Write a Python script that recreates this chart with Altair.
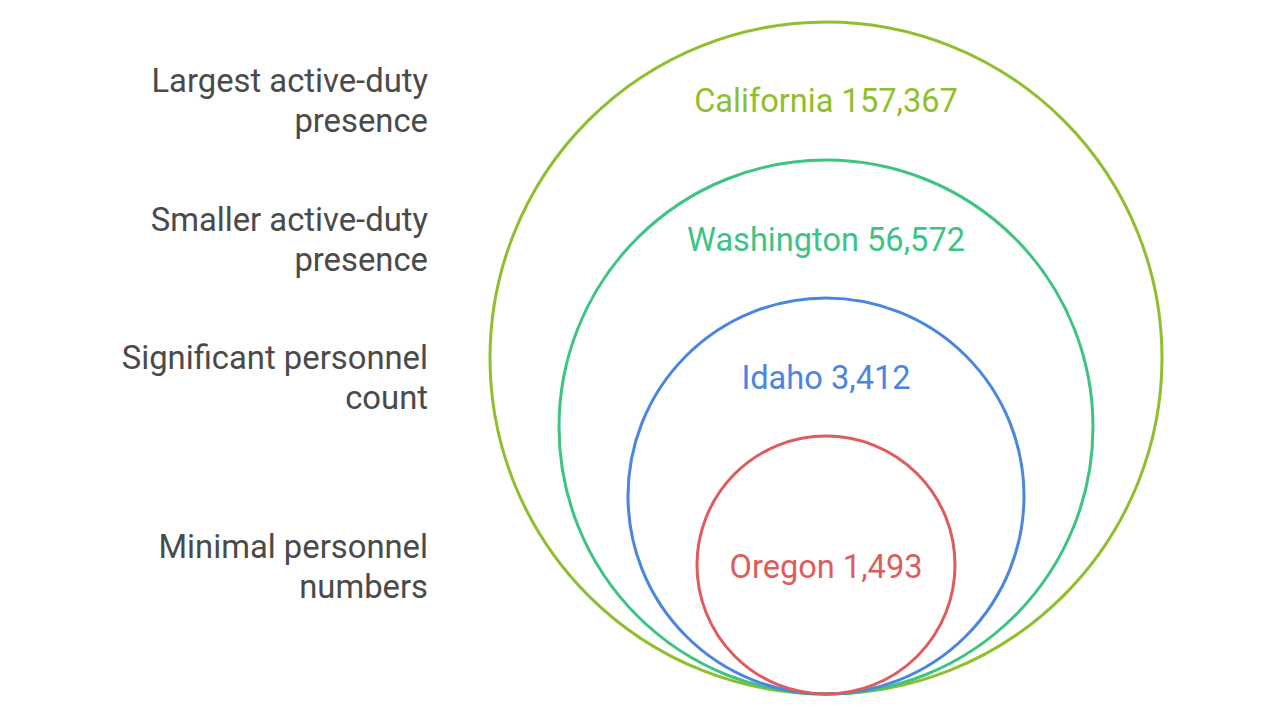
import altair as alt
import pandas as pd

# Data
states = ["California", "Washington", "Idaho", "Oregon"]
personnel = [157367, 56572, 3412, 1493]
descriptions = [
    "Largest active-duty\npresence",
    "Smaller active-duty\npresence",
    "Significant personnel\ncount",
    "Minimal personnel\nnumbers",
]
colors = ["#8fbe2e", "#3dc382", "#4a86e0", "#e05c5c"]

# Layout (pixels)
W, H = 1280, 720
cx, bottom = 826, 694
radii = [336, 267, 198, 129]
label_y = [102, 241, 379, 568]
desc_x = 428

rows = []
for s, p, d, c, r, ly in zip(states, personnel, descriptions, colors, radii, label_y):
    rows.append({
        "state": s,
        "label": f"{s} {p:,}",
        "desc": d,
        "color": c,
        "cx": cx,
        "cy": bottom - r,
        "size": (2 * r) ** 2,
        "ly": ly,
        "dx": desc_x,
    })
df = pd.DataFrame(rows)

xs = alt.Scale(domain=[0, W])
ys = alt.Scale(domain=[H, 0])

circles = alt.Chart(df).mark_point(shape="circle", filled=False, strokeWidth=3, opacity=1).encode(
    x=alt.X("cx:Q", scale=xs, axis=None),
    y=alt.Y("cy:Q", scale=ys, axis=None),
    size=alt.Size("size:Q", scale=None),
    color=alt.Color("color:N", scale=None),
)

inner = alt.Chart(df).mark_text(font="Roboto", fontSize=32.6, align="center", baseline="middle").encode(
    x=alt.X("cx:Q", scale=xs, axis=None),
    y=alt.Y("ly:Q", scale=ys, axis=None),
    text="label:N",
    color=alt.Color("color:N", scale=None),
)

side = alt.Chart(df).mark_text(font="Roboto", fontSize=32.8, align="right", baseline="middle",
                                lineBreak="\n", lineHeight=40, color="#4a4a4a", dy=-20).encode(
    x=alt.X("dx:Q", scale=xs, axis=None),
    y=alt.Y("ly:Q", scale=ys, axis=None),
    text="desc:N",
)

chart = alt.layer(circles, inner, side).properties(
    width=W, height=H, padding=0, autosize=alt.AutoSizeParams(type="none"),
    background="white",
).configure_view(stroke=None)

chart.save("out.html", embed_options={"renderer": "svg", "actions": False})
